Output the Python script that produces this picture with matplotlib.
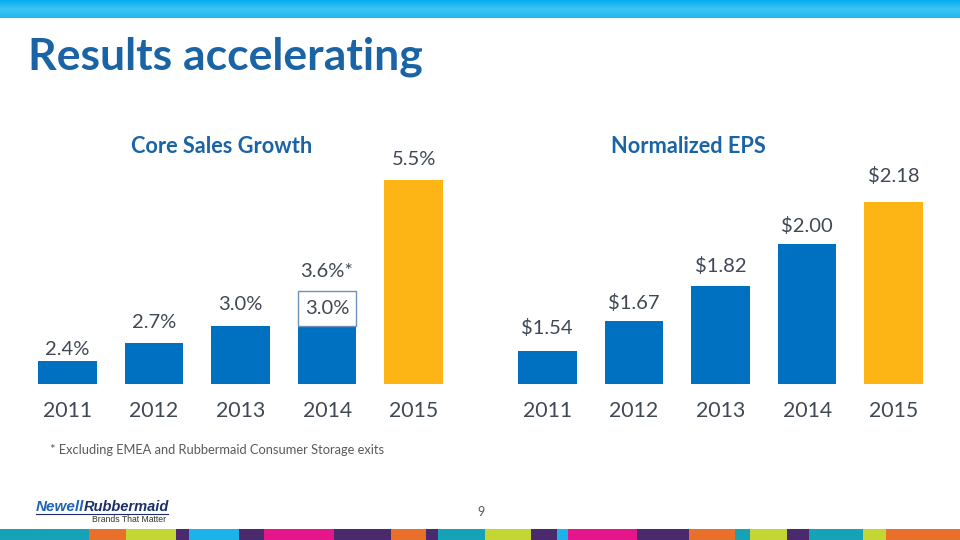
import numpy as np
import matplotlib.pyplot as plt
from matplotlib.patches import Rectangle
from matplotlib.colors import LinearSegmentedColormap

# data
years = ['2011', '2012', '2013', '2014', '2015']
core_growth = [2.4, 2.7, 3.0, 3.0, 5.5]
core_labels = ['2.4%', '2.7%', '3.0%', '3.0%', '5.5%']
core_adjusted_2014 = 3.6
core_adjusted_label = '3.6%*'
eps = [1.54, 1.67, 1.82, 2.00, 2.18]
eps_labels = ['$1.54', '$1.67', '$1.82', '$2.00', '$2.18']

BLUE = '#0070C0'
GOLD = '#FDB515'
TITLE_BLUE = '#1A64A6'
LABEL_GREY = '#404855'
FONT = ['Lato', 'DejaVu Sans']
VAL_SIZE = 14.5

plt.rcParams['font.family'] = FONT

fig = plt.figure(figsize=(9.6, 5.4), dpi=100)

# top gradient strip
top = fig.add_axes([0, 1 - 18 / 540, 1, 18 / 540])
grad = np.linspace(0, 1, 50).reshape(-1, 1)
cm = LinearSegmentedColormap.from_list('strip', ['#04ADEE', '#3EC4F3', '#22B8F0'])
top.imshow(grad, aspect='auto', cmap=cm, extent=[0, 1, 0, 1])
top.axis('off')

# bottom colour strip
strip_edges = [0, 145, 205, 287, 308, 390, 432, 545, 638, 695, 715, 792, 868,
               910, 928, 1040, 1125, 1200, 1225, 1285, 1322, 1410, 1447, 1568]
teal, orange, lime, purple, sky, magenta = ('#17A3B7', '#E8702A', '#C4D631',
                                            '#4A2A6C', '#1CB2EC', '#E5168B')
strip_cols = [teal, orange, lime, purple, sky, purple, magenta, purple, orange,
              purple, teal, lime, purple, sky, magenta, purple, orange, teal,
              lime, purple, teal, lime, orange]
bot = fig.add_axes([0, 0, 1, 11 / 540])
for i, c in enumerate(strip_cols):
    bot.add_patch(Rectangle((strip_edges[i], 0), strip_edges[i + 1] - strip_edges[i], 1,
                            color=c, lw=0))
bot.set_xlim(0, 1568)
bot.set_ylim(0, 1)
bot.axis('off')

# title
fig.text(28 / 960, 1 - 57 / 540, 'Results accelerating', fontsize=32,
         fontweight='bold', color=TITLE_BLUE, va='center', ha='left')


def style(ax):
    for s in ax.spines.values():
        s.set_visible(False)
    ax.set_yticks([])
    ax.set_xticks(range(len(years)))
    ax.set_xticklabels(years, fontsize=15.3, color=LABEL_GREY)
    ax.tick_params(axis='x', length=0, pad=12.5)
    ax.set_xlim(-0.5, 4.5)


x = np.arange(len(years))
cols = [BLUE] * 4 + [GOLD]

# left chart: core sales growth
ax1 = fig.add_axes([24 / 960, 156 / 540, 433 / 960, 234 / 540])
ax1.bar(x, np.array(core_growth) - 2.0, bottom=2.0, width=0.675, color=cols)
ax1.set_ylim(2.0, 2.0 + 234 / 58.3)
style(ax1)
lift1 = [11, 21, 21, None, 20]
for i, (v, lab) in enumerate(zip(core_growth, core_labels)):
    if i == 3:
        continue
    ax1.annotate(lab, (i, v), xytext=(0, lift1[i] * 0.72), textcoords='offset points',
                 ha='center', va='center', fontsize=VAL_SIZE, color=LABEL_GREY)
# boxed 2014 adjusted value
ax1.bar(3, core_adjusted_2014 - core_growth[3], bottom=core_growth[3], width=0.675,
        facecolor='white', edgecolor='#6E93B6', lw=1)
ax1.text(3, (core_adjusted_2014 + core_growth[3]) / 2, core_labels[3], ha='center',
         va='center', fontsize=VAL_SIZE, color=LABEL_GREY)
ax1.annotate(core_adjusted_label, (3, core_adjusted_2014), xytext=(0, 19 * 0.72),
             textcoords='offset points', ha='center', va='center', fontsize=VAL_SIZE,
             color=LABEL_GREY)

# right chart: normalized EPS
ax2 = fig.add_axes([504 / 960, 156 / 540, 433 / 960, 234 / 540])
ax2.bar(x, np.array(eps) - 1.40, bottom=1.40, width=0.675, color=cols)
ax2.set_ylim(1.40, 1.40 + 234 / 233.0)
style(ax2)
lift2 = [23, 18, 20, 18, 26]
for i, (v, lab) in enumerate(zip(eps, eps_labels)):
    ax2.annotate(lab, (i, v), xytext=(0, lift2[i] * 0.72), textcoords='offset points',
                 ha='center', va='center', fontsize=VAL_SIZE, color=LABEL_GREY)

# chart subtitles
fig.text(222 / 960, 1 - 147 / 540, 'Core Sales Growth', fontsize=15.7, fontweight='bold',
         color=TITLE_BLUE, ha='center', va='center')
fig.text(688 / 960, 1 - 147 / 540, 'Normalized EPS', fontsize=15.7, fontweight='bold',
         color=TITLE_BLUE, ha='center', va='center')

# footnote
fig.text(50 / 960, 1 - 450 / 540, '* Excluding EMEA and Rubbermaid Consumer Storage exits',
         fontsize=9.3, color='#595959', ha='left', va='center')

# page number
fig.text(481 / 960, 1 - 512 / 540, '9', fontsize=9, color='#595959', ha='center',
         va='center')

# logo
logo_font = ['Liberation Sans', 'DejaVu Sans']
fig.text(36 / 960, 1 - 507 / 540, 'Newell', fontsize=11, fontweight='bold',
         fontstyle='italic', color='#1F64B4', ha='left', va='center', family=logo_font)
fig.text(84 / 960, 1 - 507 / 540, 'Rubbermaid', fontsize=10.5, fontweight='bold',
         fontstyle='italic', color='#1B2F6B', ha='left', va='center', family=logo_font)
fig.add_artist(plt.Line2D([36 / 960, 168 / 960], [1 - 514 / 540, 1 - 514 / 540],
                          color='#1B2F6B', lw=0.8))
fig.text(166 / 960, 1 - 520 / 540, 'Brands That Matter', fontsize=6.2,
         color='#333333', ha='right', va='center', family=logo_font)

fig.savefig('out.png', dpi=100)
